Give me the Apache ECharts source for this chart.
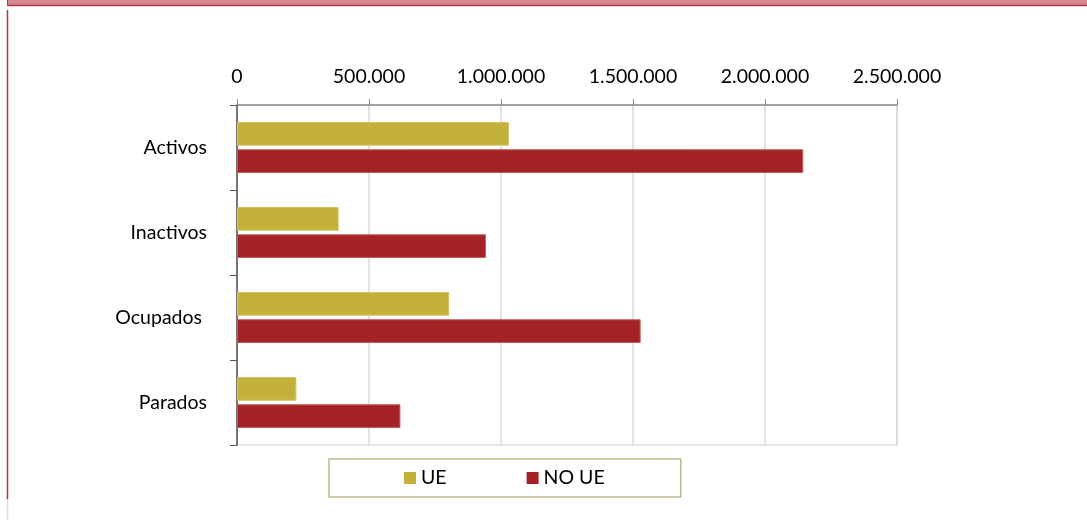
<!DOCTYPE html>
<html>
<head>
<meta charset="utf-8">
<script src="https://cdn.jsdelivr.net/npm/echarts@6/dist/echarts.min.js"></script>
<style>
html,body{margin:0;padding:0;background:#fff;}
#main{width:1087px;height:520px;}
</style>
</head>
<body>
<div id="main"></div>
<script>
var categories = ['Activos', 'Inactivos', 'Ocupados ', 'Parados'];
var seriesNames = ['UE', 'NO UE'];
var ueValues = [1030000, 385000, 804000, 225000];
var noUeValues = [2145000, 943000, 1529000, 619000];
var xTicks = [0, 500000, 1000000, 1500000, 2000000, 2500000];

function fmt(v) {
  return String(Math.round(v)).replace(/\B(?=(\d{3})+(?!\d))/g, '.');
}

var FONT = 'Lato, "Liberation Sans", sans-serif';
var chart = echarts.init(document.getElementById('main'), null, {renderer: 'canvas'});
chart.setOption({
  animation: false,
  backgroundColor: '#ffffff',
  textStyle: {fontFamily: FONT},
  graphic: [
    {type: 'rect', shape: {x: 7, y: 0, width: 1080, height: 6}, style: {fill: '#d3888f'}, z: 10},
    {type: 'line', shape: {x1: 7, y1: 5.5, x2: 1087, y2: 5.5}, style: {stroke: '#b43440', lineWidth: 1.5}, z: 11},
    {type: 'line', shape: {x1: 7.5, y1: 0, x2: 7.5, y2: 6}, style: {stroke: '#b43440', lineWidth: 1}, z: 11},
    {type: 'line', shape: {x1: 7.5, y1: 10, x2: 7.5, y2: 499}, style: {stroke: '#b8323a', lineWidth: 1.5}, z: 11},
    {type: 'line', shape: {x1: 7.5, y1: 499, x2: 7.5, y2: 520}, style: {stroke: '#f1d4d6', lineWidth: 1.5}, z: 11}
  ],
  grid: {
    left: 237, right: 190, top: 105, bottom: 75,
    show: true, borderColor: '#d0d0d0', borderWidth: 1
  },
  legend: {
    data: seriesNames,
    left: 329, top: 459,
    width: 354,
    padding: [9, 76, 9, 75],
    itemGap: 80,
    itemWidth: 12, itemHeight: 12,
    icon: 'rect',
    itemStyle: {borderWidth: 0},
    borderColor: '#bdb88e', borderWidth: 1.5,
    textStyle: {fontSize: 19.5, color: '#000', fontFamily: FONT, lineHeight: 20}
  },
  xAxis: {
    type: 'value',
    position: 'top',
    min: 0, max: 2500000, interval: 500000,
    axisLine: {show: true, lineStyle: {color: '#8c8c8c', width: 1.5}},
    axisTick: {show: true, length: 6, lineStyle: {color: '#8c8c8c'}},
    splitLine: {show: true, lineStyle: {color: '#d9d9d9', width: 1.5}},
    axisLabel: {
      fontSize: 19.5, color: '#000', margin: 18, fontFamily: FONT,
      formatter: function (v) { return xTicks.indexOf(v) >= 0 ? fmt(v) : ''; }
    }
  },
  yAxis: {
    type: 'category',
    data: categories,
    inverse: true,
    axisLine: {show: true, lineStyle: {color: '#555555', width: 1.5}},
    axisTick: {show: true, length: 7, lineStyle: {color: '#555555'}},
    axisLabel: {fontSize: 19.5, color: '#000', margin: 30, fontFamily: FONT}
  },
  series: [
    {
      name: seriesNames[0], type: 'bar', data: ueValues,
      barCategoryGap: '40%', barGap: '15%',
      itemStyle: {color: '#c4b13b', borderColor: '#d3c462', borderWidth: 1}
    },
    {
      name: seriesNames[1], type: 'bar', data: noUeValues,
      barCategoryGap: '40%', barGap: '15%',
      itemStyle: {color: '#a32327', borderColor: '#c25a5d', borderWidth: 1}
    }
  ]
});
</script>
</body>
</html>
